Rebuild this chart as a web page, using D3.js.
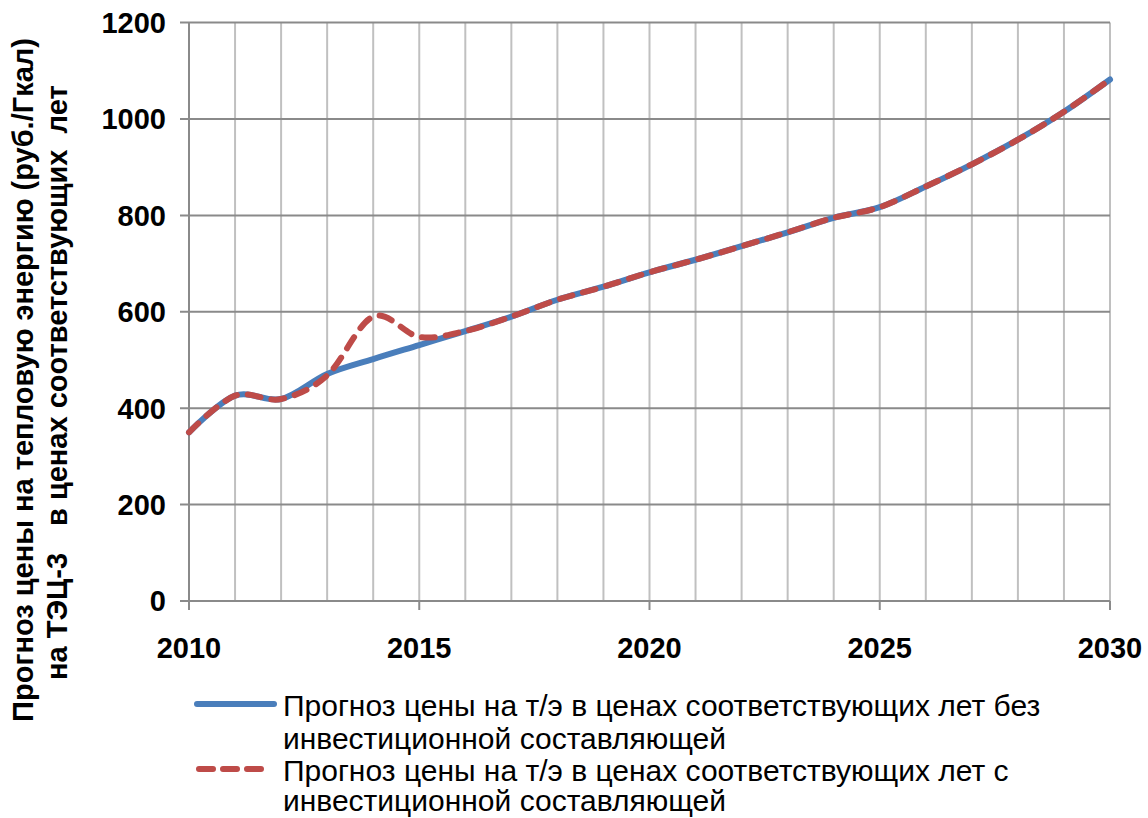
<!DOCTYPE html>
<html>
<head>
<meta charset="utf-8">
<script src="https://cdn.jsdelivr.net/npm/d3@7"></script>
<style>
  html, body { margin: 0; padding: 0; background: #fff; }
  svg { display: block; }
  text { font-family: "Liberation Sans", Arial, sans-serif; }
</style>
</head>
<body>
<svg id="chart" width="1148" height="818"></svg>
<script>
const years = [2010,2011,2012,2013,2014,2015,2016,2017,2018,2019,2020,2021,2022,2023,2024,2025,2026,2027,2028,2029,2030];
const priceWithoutInvest = [350,426,419,471,502,531,560,590,625,652,682,708,736,765,795,817,860,906,957,1015,1082];
const priceWithInvest    = [350,426,419,468,590,548,560,590,625,652,682,708,736,765,795,817,860,906,957,1015,1082];
const yTicks = [0,200,400,600,800,1000,1200];
const xTicks = [2010,2015,2020,2025,2030];
const seriesNames = [
  ["Прогноз цены на т/э в ценах соответствующих лет без", "инвестиционной составляющей"],
  ["Прогноз цены на т/э в ценах соответствующих лет с", "инвестиционной составляющей"]
];
const yTitleLine1 = "Прогноз цены на тепловую энергию (руб./Гкал)";
const yTitleLine2 = ["на ТЭЦ-3", "в ценах соответствующих  лет"];

const svg = d3.select("#chart");
const x = d3.scaleLinear().domain([2010, 2030]).range([189, 1110]);
const y = d3.scaleLinear().domain([0, 1200]).range([601, 22.6]);

// vertical gridlines (each year)
svg.append("g").selectAll("line").data(years.slice(1)).join("line")
  .attr("x1", d => x(d)).attr("x2", d => x(d))
  .attr("y1", y(1200)).attr("y2", y(0))
  .attr("stroke", "#c0c0c0").attr("stroke-width", 2);

// horizontal gridlines
svg.append("g").selectAll("line").data(yTicks).join("line")
  .attr("x1", 180).attr("x2", x(2030))
  .attr("y1", d => y(d)).attr("y2", d => y(d))
  .attr("stroke", "#8a8a8a").attr("stroke-width", 2);

// y axis line
svg.append("line").attr("x1", x(2010)).attr("x2", x(2010))
  .attr("y1", y(1200)).attr("y2", y(0) + 9)
  .attr("stroke", "#8a8a8a").attr("stroke-width", 2);

// x ticks
svg.append("g").selectAll("line").data(xTicks).join("line")
  .attr("x1", d => x(d)).attr("x2", d => x(d))
  .attr("y1", y(0)).attr("y2", y(0) + 9)
  .attr("stroke", "#8a8a8a").attr("stroke-width", 2);

// y tick labels
svg.append("g").selectAll("text").data(yTicks).join("text")
  .attr("x", 166).attr("y", d => y(d)).attr("dy", "0.36em")
  .attr("text-anchor", "end").attr("font-weight", "bold").attr("font-size", 29)
  .text(d => d);

// x tick labels
svg.append("g").selectAll("text").data(xTicks).join("text")
  .attr("x", d => x(d)).attr("y", 658)
  .attr("text-anchor", "middle").attr("font-weight", "bold").attr("font-size", 29)
  .text(d => d);

// y title
const yt = svg.append("text").attr("transform", "rotate(-90)")
  .attr("font-weight", "bold").attr("font-size", 29).style("white-space", "pre");
yt.append("tspan").attr("x", -380).attr("y", 33).attr("text-anchor", "middle").text(yTitleLine1);
yt.append("tspan").attr("x", -680).attr("y", 67).text(yTitleLine2[0]);
yt.append("tspan").attr("x", -526).attr("y", 67).text(yTitleLine2[1]);

// lines
const line = d3.line().x((d, i) => x(years[i])).y(d => y(d)).curve(d3.curveCardinal.tension(0));
svg.append("path").datum(priceWithoutInvest).attr("d", line)
  .attr("fill", "none").attr("stroke", "#4a7ebb").attr("stroke-width", 6)
  .attr("stroke-linecap", "round").attr("stroke-linejoin", "round");
svg.append("path").datum(priceWithInvest).attr("d", line)
  .attr("fill", "none").attr("stroke", "#be4b48").attr("stroke-width", 6)
  .attr("stroke-dasharray", "13,11").attr("stroke-linecap", "round");

// legend
svg.append("line").attr("x1", 197).attr("x2", 274).attr("y1", 704).attr("y2", 704)
  .attr("stroke", "#4a7ebb").attr("stroke-width", 6).attr("stroke-linecap", "round");
svg.append("line").attr("x1", 199).attr("x2", 268).attr("y1", 769).attr("y2", 769)
  .attr("stroke", "#be4b48").attr("stroke-width", 6).attr("stroke-linecap", "round")
  .attr("stroke-dasharray", "14,10");

const legBase = [[716, 749], [781, 811]];
seriesNames.forEach((lines, i) => {
  lines.forEach((t, j) => {
    svg.append("text").attr("x", 283).attr("y", legBase[i][j])
      .attr("font-size", 30).text(t);
  });
});
</script>
</body>
</html>
